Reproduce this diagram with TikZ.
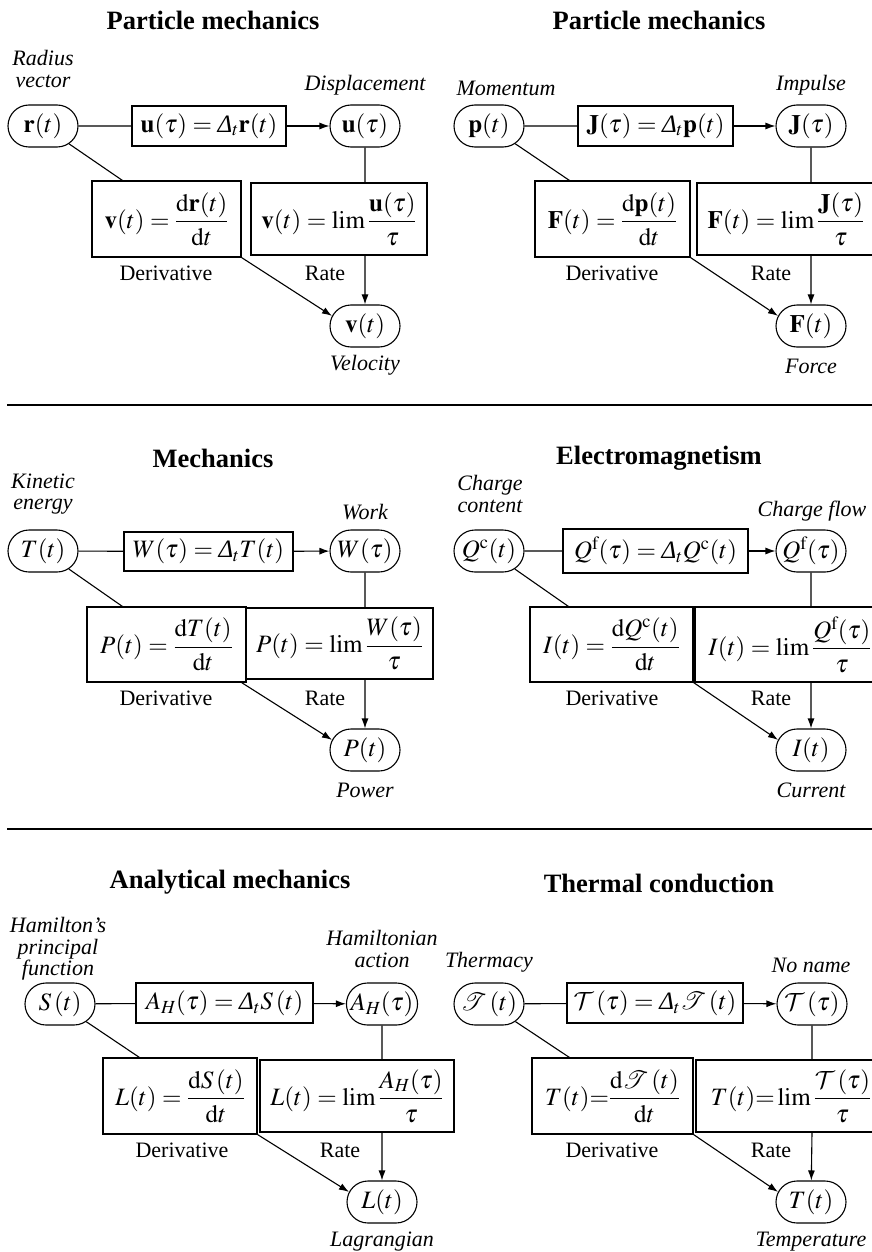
\documentclass[tikz,border=0pt]{standalone}
\usepackage{amsmath}
\usepackage{mathptmx}
\usepackage{mathrsfs}
\usepackage{fontspec}
\setmainfont{Liberation Serif}
\usetikzlibrary{shapes.misc,arrows.meta,calc}

% italic capital Delta used for the finite difference operator
\newcommand\Dlt{\mathord{\textit{Δ}}}
% classic calligraphic capitals
\DeclareMathAlphabet{\mathcalx}{OMS}{cmsy}{m}{n}
\newcommand\mfont{\fontsize{25}{30}\selectfont}
\newcommand\lfont{\fontsize{22}{21.5}\selectfont\itshape}
\newcommand\cfont{\fontsize{22}{24}\selectfont}
\newcommand\tfont{\fontsize{26.5}{30}\selectfont\bfseries}

\tikzset{
  qty/.style={rounded rectangle, draw, line width=1.1pt, minimum width=70pt,
    minimum height=42pt, inner sep=0pt, font=\mfont},
  eqbox/.style={rectangle, draw, line width=1.1pt, inner sep=0pt, font=\mfont},
  lab/.style={font=\lfont, align=center, inner sep=0pt},
  undertext/.style={font=\cfont, inner sep=0pt},
  ttl/.style={font=\tfont, inner sep=0pt},
  link/.style={line width=1.1pt},
  flow/.style={link, -{Latex[length=10pt,width=7pt]}},
  rule/.style={line width=1.3pt},
}

\begin{document}
\begin{tikzpicture}[x=1pt,y=-1pt]
\useasboundingbox (0,0) rectangle (872,1252);
\clip (0,0) rectangle (872,1252);

% ---------------- Particle mechanics (position) ----------------
\node[ttl] (t1) at (213,20) {Particle mechanics};
\node[lab] (l1a) at (43,69) {Radius\\vector};
\node[lab] (l1b) at (365,85) {Displacement};
\node[lab] (l1c) at (365,365) {Velocity};
\node[qty] (r) at (43,126) {$\mathbf{r}(t)$};
\node[qty] (u) at (365,126) {$\mathbf{u}(\tau)$};
\node[qty] (v) at (365,326) {$\mathbf{v}(t)$};
\node[eqbox, minimum width=154pt, minimum height=40pt] (e1) at (209,126)
  {$\mathbf{u}(\tau) = \Dlt_t\mathbf{r}(t)$};
\node[eqbox, minimum width=149pt, minimum height=76pt] (d1) at (166.5,219)
  {$\mathbf{v}(t) = \dfrac{\mathrm{d}\mathbf{r}(t)}{\mathrm{d}t}$};
\node[eqbox, minimum width=176pt, minimum height=72pt] (k1) at (339,219)
  {$\mathbf{v}(t) = \lim\dfrac{\mathbf{u}(\tau)}{\tau}$};
\node[undertext] (c1a) at (166,273) {Derivative};
\node[undertext] (c1b) at (325,273) {Rate};
\coordinate (h1) at ($(d1.north west)+(31,0)$);
\draw[link] (r) -- (e1);
\draw[flow] (e1) -- (u);
\draw[link] (r) -- (h1);
\draw[link] (u) -- (u |- k1.north);
\draw[flow] (u |- k1.south) -- (v);
\draw[flow] (d1.south east) -- (v.163);

% ---------------- Particle mechanics (momentum) ----------------
\node[ttl] (t2) at (659,20) {Particle mechanics};
\node[lab] (l2a) at (506,88) {Momentum};
\node[lab] (l2b) at (811,85) {Impulse};
\node[lab] (l2c) at (811,366) {Force};
\node[qty] (p) at (489,126) {$\mathbf{p}(t)$};
\node[qty] (J) at (811,126) {$\mathbf{J}(\tau)$};
\node[qty] (F) at (811,326) {$\mathbf{F}(t)$};
\node[eqbox, minimum width=155pt, minimum height=40pt] (e2) at (655.5,126)
  {$\mathbf{J}(\tau) = \Dlt_t\mathbf{p}(t)$};
\node[eqbox, minimum width=155pt, minimum height=76pt] (d2) at (612.5,219)
  {$\mathbf{F}(t) = \dfrac{\mathrm{d}\mathbf{p}(t)}{\mathrm{d}t}$};
\node[eqbox, minimum width=178pt, minimum height=72pt] (k2) at (786,219)
  {$\mathbf{F}(t) = \lim\dfrac{\mathbf{J}(\tau)}{\tau}$};
\node[undertext] (c2a) at (612,273) {Derivative};
\node[undertext] (c2b) at (771,273) {Rate};
\coordinate (h2) at ($(d2.north west)+(35,0)$);
\draw[link] (p) -- (e2);
\draw[flow] (e2) -- (J);
\draw[link] (p) -- (h2);
\draw[link] (J) -- (J |- k2.north);
\draw[flow] (J |- k2.south) -- (F);
\draw[flow] (d2.south east) -- (F.163);

\draw[rule] (7,405) -- (872,405);

% ---------------- Mechanics ----------------
\node[ttl] (t3) at (213,458) {Mechanics};
\node[lab] (l3a) at (43,494) {Kinetic\\energy};
\node[lab] (l3b) at (365,512) {Work};
\node[lab] (l3c) at (365,790) {Power};
\node[qty] (T) at (43,551) {$T(t)$};
\node[qty] (W) at (365,551) {$W(\tau)$};
\node[qty] (P) at (365,750) {$P(t)$};
\node[eqbox, minimum width=169pt, minimum height=39pt] (e3) at (208.5,551.5)
  {$W(\tau) = \Dlt_t T(t)$};
\node[eqbox, minimum width=187pt, minimum height=71pt] (k3) at (339.5,643.5)
  {$P(t) = \lim\dfrac{W(\tau)}{\tau}$};
\node[eqbox, minimum width=159pt, minimum height=75pt, fill=white] (d3) at (166.5,644.5)
  {$P(t) = \dfrac{\mathrm{d}T(t)}{\mathrm{d}t}$};
\node[undertext] (c3a) at (166,698) {Derivative};
\node[undertext] (c3b) at (325,698) {Rate};
\coordinate (h3) at ($(d3.north west)+(36,0)$);
\draw[link] (T) -- (e3);
\draw[flow] (e3) -- (W);
\draw[link] (T) -- (h3);
\draw[link] (W) -- (W |- k3.north);
\draw[flow] (W |- k3.south) -- (P);
\draw[flow] ($(d3.south east)+(-5,0)$) -- (P.163);

% ---------------- Electromagnetism ----------------
\node[ttl] (t4) at (659,458) {Electromagnetism};
\node[lab] (l4a) at (490,494) {Charge\\content};
\node[lab] (l4b) at (812,511) {Charge flow};
\node[lab] (l4c) at (811,790) {Current};
\node[qty] (Qc) at (489,551) {$Q^{\mathrm{c}}(t)$};
\node[qty] (Qf) at (811,551) {$Q^{\mathrm{f}}(\tau)$};
\node[qty] (I) at (811,750) {$I(t)$};
\node[eqbox, minimum width=185pt, minimum height=44pt] (e4) at (655.5,551)
  {$Q^{\mathrm{f}}(\tau) = \Dlt_t Q^{\mathrm{c}}(t)$};
\node[eqbox, minimum width=163pt, minimum height=75pt] (d4) at (611.5,644.5)
  {$I(t) = \dfrac{\mathrm{d}Q^{\mathrm{c}}(t)}{\mathrm{d}t}$};
\node[eqbox, minimum width=190pt, minimum height=75pt] (k4) at (790,644.5)
  {$I(t) = \lim\dfrac{Q^{\mathrm{f}}(\tau)}{\tau}$\hspace{12pt}};
\node[undertext] (c4a) at (612,698) {Derivative};
\node[undertext] (c4b) at (771,698) {Rate};
\coordinate (h4) at ($(d4.north west)+(39,0)$);
\draw[link] (Qc) -- (e4);
\draw[flow] (e4) -- (Qf);
\draw[link] (Qc) -- (h4);
\draw[link] (Qf) -- (Qf |- k4.north);
\draw[flow] (Qf |- k4.south) -- (I);
\draw[flow] (d4.south east) -- (I.163);

\draw[rule] (7,829) -- (872,829);

% ---------------- Analytical mechanics ----------------
\node[ttl] (t5) at (230,882) {Analytical mechanics};
\node[lab] (l5a) at (58,949) {Hamilton’s\\principal\\function};
\node[lab] (l5b) at (382,949) {Hamiltonian\\action};
\node[lab] (l5c) at (382,1242) {Lagrangian};
\node[qty] (S) at (60,1004) {$S\,(t)$};
\node[qty] (A) at (382,1004) {$A_H(\tau)$};
\node[qty] (L) at (382,1202) {$L(t)$};
\node[eqbox, minimum width=177pt, minimum height=40pt] (e5) at (224.5,1003)
  {$A_H(\tau) = \Dlt_t S\,(t)$};
\node[eqbox, minimum width=154pt, minimum height=76pt] (d5) at (180,1096)
  {$L(t) = \dfrac{\mathrm{d}S\,(t)}{\mathrm{d}t}$};
\node[eqbox, minimum width=194pt, minimum height=72pt] (k5) at (357,1096)
  {$L(t) = \lim\dfrac{A_H(\tau)}{\tau}$};
\node[undertext] (c5a) at (182,1150) {Derivative};
\node[undertext] (c5b) at (340,1150) {Rate};
\coordinate (h5) at ($(d5.north west)+(37,0)$);
\draw[link] (S) -- (e5);
\draw[flow] (e5) -- (A);
\draw[link] (S) -- (h5);
\draw[link] (A) -- (A |- k5.north);
\draw[flow] (A |- k5.south) -- (L);
\draw[flow] (d5.south east) -- (L.163);

% ---------------- Thermal conduction ----------------
\node[ttl] (t6) at (659,883) {Thermal conduction};
\node[lab] (l6a) at (489,962) {Thermacy};
\node[lab] (l6b) at (811,965) {No name};
\node[lab] (l6c) at (811,1242) {Temperature};
\node[qty] (Th) at (489,1004) {$\mathscr{T}\,(t)$};
\node[qty] (Tc) at (812,1004) {$\mathcalx{T}\,(\tau)$};
\node[qty] (Tt) at (811,1202) {$T(t)$};
\node[eqbox, minimum width=176pt, minimum height=40pt] (e6) at (655,1003)
  {$\mathcalx{T}\,(\tau) = \Dlt_t\mathscr{T}\,(t)$};
\node[eqbox, minimum width=161pt, minimum height=76pt] (d6) at (612.5,1096)
  {$T(t){=}\dfrac{\mathrm{d}\mathscr{T}\,(t)}{\mathrm{d}t}$};
\node[eqbox, minimum width=190pt, minimum height=72pt] (k6) at (791,1096)
  {$T(t){=}\lim\dfrac{\mathcalx{T}\,(\tau)}{\tau}$\hspace{14pt}};
\node[undertext] (c6a) at (612,1150) {Derivative};
\node[undertext] (c6b) at (771,1150) {Rate};
\coordinate (h6) at ($(d6.north west)+(38,0)$);
\draw[link] (Th) -- (e6);
\draw[flow] (e6) -- (Tc);
\draw[link] (Th) -- (h6);
\draw[link] (Tc) -- (Tc |- k6.north);
\draw[flow] (Tc |- k6.south) -- (Tt);
\draw[flow] (d6.south east) -- (Tt.163);
\end{tikzpicture}
\end{document}
